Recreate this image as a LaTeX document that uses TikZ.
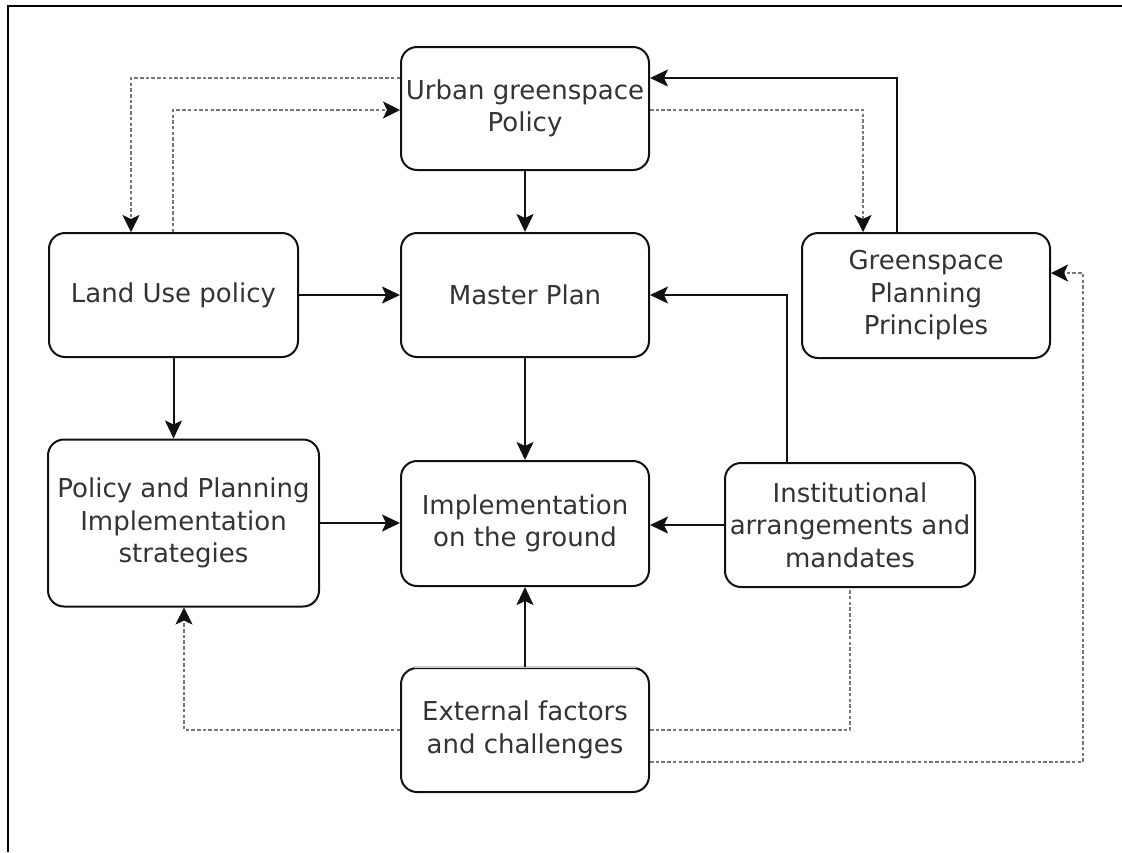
\documentclass[tikz,border=0pt]{standalone}
\usepackage{fontspec}
\setmainfont{DejaVu Sans}
\usetikzlibrary{arrows.meta,calc}

\definecolor{ink}{HTML}{111111}
\definecolor{txt}{HTML}{333333}
\definecolor{dots}{HTML}{777777}

\tikzset{
  box/.style={draw=ink, line width=2pt, rounded corners=16pt, fill=white,
    align=center, text=txt, inner sep=2pt,
    font=\fontsize{26}{32.5}\selectfont},
  flow/.style={draw=ink, line width=2pt,
    -{Stealth[length=18pt, width=17pt, inset=4pt]}},
  link/.style={draw=dots, line width=1.7pt, dash pattern=on 3.5pt off 2.2pt},
  linkarrow/.style={link,
    -{Stealth[length=17pt, width=17pt, inset=4pt, color=ink, line width=0.5pt]}},
  frame/.style={draw=black, line width=2.4pt}
}

\begin{document}
\begin{tikzpicture}[x=1pt, y=-1pt]
  \useasboundingbox (0,0) rectangle (1122,852);

  % border lines along the top and left
  \draw[frame] (8,852) -- (8,6) -- (1122,6);

  % boxes
  \node[box, minimum width=248pt, minimum height=123pt] (ugp) at (525,108.5)
    {Urban greenspace\\Policy};
  \node[box, minimum width=249pt, minimum height=124pt] (lu) at (173.5,295)
    {Land Use policy};
  \node[box, minimum width=248pt, minimum height=124pt] (mp) at (525,295)
    {Master Plan};
  \node[box, minimum width=248pt, minimum height=125pt] (gpp) at (926,295.5)
    {Greenspace\\Planning\\Principles};
  \node[box, minimum width=271pt, minimum height=167pt] (ppi) at (183.5,523)
    {Policy and Planning\\Implementation\\strategies};
  \node[box, minimum width=248pt, minimum height=125pt] (ig) at (525,523.5)
    {Implementation\\on the ground};
  \node[box, minimum width=250pt, minimum height=124pt] (iam) at (850,525)
    {Institutional\\arrangements and\\mandates};
  \node[box, minimum width=248pt, minimum height=124pt] (ef) at (525,730)
    {External factors\\and challenges};
  % lighter upper edge of the last box
  \draw[gray!40, line width=2.2pt] ($(ef.north west)+(14,0)$) -- ($(ef.north east)+(-14,0)$);

  % points where bent connectors leave or enter the boxes
  \coordinate (ugpInA) at (ugp.west |- 0,78);
  \coordinate (ugpInB) at (ugp.west |- 0,110);
  \coordinate (ugpOutR) at (ugp.east |- 0,110);
  \coordinate (ugpInR) at (ugp.east |- 0,78);
  \coordinate (luTopA) at (131,0 |- lu.north);
  \coordinate (luTopB) at (173,0 |- lu.north);
  \coordinate (gppTopA) at (863,0 |- gpp.north);
  \coordinate (gppTopB) at (897,0 |- gpp.north);
  \coordinate (gppInR) at (gpp.east |- 0,273);
  \coordinate (iamTop) at (787,0 |- iam.north);
  \coordinate (ppiBot) at (184,0 |- ppi.south);
  \coordinate (efOutB) at (ef.east |- 0,762);

  % solid connectors
  \draw[flow] (ugp.south) -- (mp.north);
  \draw[flow] (lu.east) -- (mp.west);
  \draw[flow] (mp.south) -- (ig.north);
  \draw[flow] (lu.south) -- (lu.south |- ppi.north);
  \draw[flow] (ppi.east) -- (ppi.east -| ig.west);
  \draw[flow] (iam.west) -- (iam.west -| ig.east);
  \draw[flow] (iamTop) |- (mp.east);
  \draw[flow] (gppTopB) |- (ugpInR);
  \draw[flow] (ef.north) -- (ig.south);

  % dashed feedback links
  \draw[linkarrow] (ugpInA) -| (luTopA);
  \draw[linkarrow] (luTopB) |- (ugpInB);
  \draw[linkarrow] (ugpOutR) -| (gppTopA);
  \draw[linkarrow] (ef.west) -| (ppiBot);
  \draw[link] (ef.east) -| (iam.south);
  \draw[linkarrow] (efOutB) -| (1083,273) -- (gppInR);
\end{tikzpicture}
\end{document}
